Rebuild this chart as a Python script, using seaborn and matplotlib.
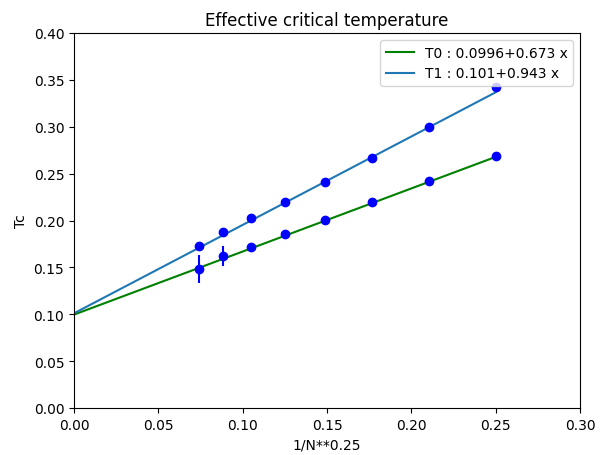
import numpy as np
import pandas as pd
import matplotlib
matplotlib.use("Agg")
import matplotlib.pyplot as plt
import seaborn as sns

N = [32768, 16384, 8192, 4096, 2048, 1024, 512, 256]
x_vals = [n ** -0.25 for n in N]
tc0 = [0.1483, 0.1618, 0.1717, 0.1856, 0.2005, 0.2197, 0.2421, 0.2688]
err0 = [0.015, 0.0107, 0.002, 0.002, 0.002, 0.002, 0.002, 0.002]
tc1 = [0.1728, 0.1877, 0.2027, 0.2197, 0.2410, 0.2667, 0.2997, 0.3420]
err1 = [0.002, 0.002, 0.002, 0.002, 0.002, 0.002, 0.002, 0.002]
fit0 = (0.0996, 0.673)
fit1 = (0.101, 0.943)
line_x = [0.0, 0.25]

fig = plt.figure(figsize=(6.03, 4.56), dpi=100)
ax = fig.add_axes([74/603, 1-409/456, (580-74)/603, (409-34)/456])

ax.errorbar(x_vals, tc0, yerr=err0, fmt='bo')
ax.errorbar(x_vals, tc1, yerr=err1, fmt='bo')

df0 = pd.DataFrame({"x": line_x, "y": [fit0[0] + fit0[1]*v for v in line_x]})
df1 = pd.DataFrame({"x": line_x, "y": [fit1[0] + fit1[1]*v for v in line_x]})
sns.lineplot(data=df0, x="x", y="y", color="green", ax=ax,
             label="T0 : %s+%s x" % (fit0[0], fit0[1]))
sns.lineplot(data=df1, x="x", y="y", color="#1f77b4", ax=ax,
             label="T1 : %s+%s x" % (fit1[0], fit1[1]))

ax.set_xlim(0, 0.3)
ax.set_ylim(0, 0.4)
ax.set_title("Effective critical temperature")
ax.set_xlabel("1/N**0.25")
ax.set_ylabel("Tc")
ax.legend(loc="upper right")
fig.savefig("out.png", dpi=100)
